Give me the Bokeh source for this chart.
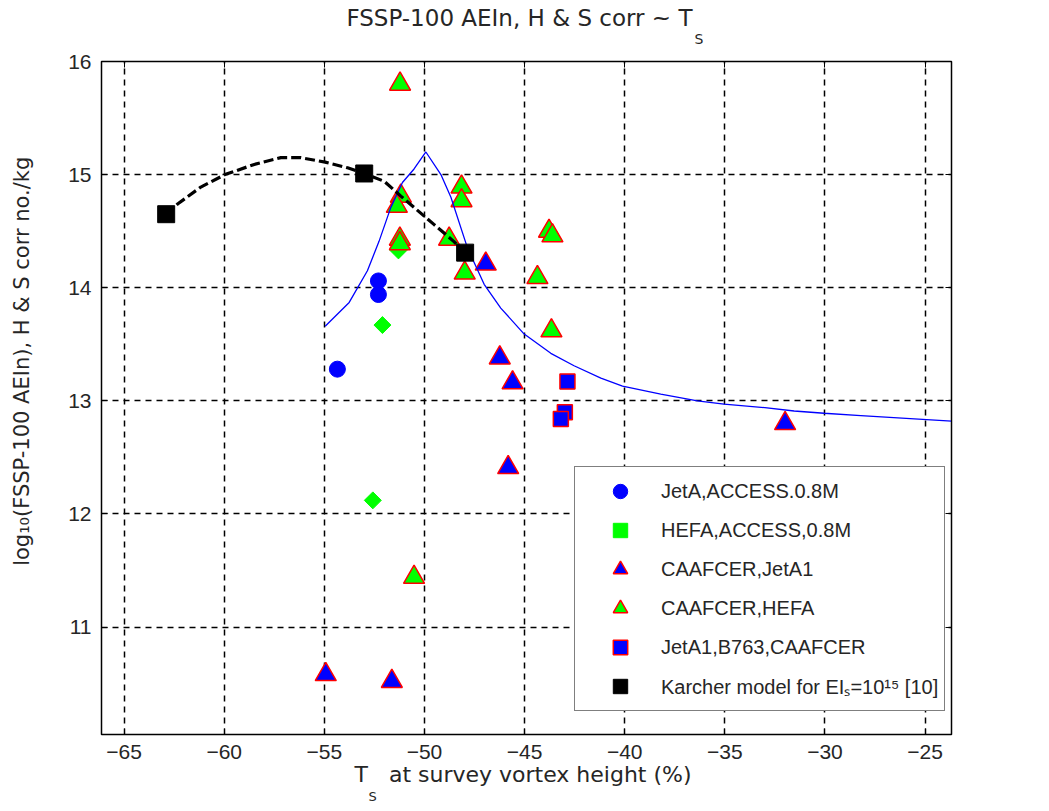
import numpy as np
from bokeh.plotting import figure
from bokeh.models import Range1d, Legend, LegendItem, LinearAxis, FixedTicker, Title
from bokeh.embed import file_html
from bokeh.resources import INLINE

# ---------------- data ----------------
x_ticks = [-65, -60, -55, -50, -45, -40, -35, -30, -25]
y_ticks = [10, 11, 12, 13, 14, 15, 16]

jeta_access_x = [-52.30, -52.30, -54.35]
jeta_access_y = [14.06, 13.94, 13.28]

hefa_access_x = [-52.10, -51.30, -52.58]
hefa_access_y = [13.67, 14.33, 12.12]

caaf_jeta1_x = [-46.94, -46.24, -45.60, -45.82, -54.93, -51.63, -31.99]
caaf_jeta1_y = [14.21, 13.38, 13.16, 12.41, 10.58, 10.52, 12.80]

caaf_hefa_x = [-51.22, -51.18, -51.38, -51.23, -51.23, -48.15, -48.15,
               -48.77, -47.99, -43.78, -43.61, -44.36, -43.66, -50.52]
caaf_hefa_y = [15.80, 14.81, 14.72, 14.43, 14.39, 14.89, 14.77,
               14.43, 14.13, 14.50, 14.46, 14.09, 13.62, 11.44]

b763_x = [-42.86, -42.99, -43.19]
b763_y = [13.17, 12.90, 12.84]

karcher_x = [-62.90, -53.01, -47.97]
karcher_y = [14.65, 15.01, 14.31]

karcher_curve_x = [-62.90, -62.33, -61.17, -59.97, -58.50, -57.17, -56.18,
                   -54.96, -53.84, -53.01, -52.00, -51.18, -49.53, -48.54, -47.97]
karcher_curve_y = [14.65, 14.74, 14.89, 15.00, 15.09, 15.15, 15.15,
                   15.11, 15.06, 15.01, 14.94, 14.81, 14.56, 14.41, 14.31]

fit_x = [-54.96, -53.76, -52.85, -52.27, -51.68, -51.10, -50.52, -49.93,
         -49.18, -48.68, -47.85, -47.02, -46.19, -45.02, -43.69, -42.53,
         -41.19, -40.11, -38.20, -36.37, -35.04, -33.00, -31.54, -30.04,
         -28.21, -23.68]
fit_y = [13.66, 13.87, 14.15, 14.41, 14.71, 14.93, 15.05, 15.20,
         15.00, 14.80, 14.35, 14.03, 13.82, 13.59, 13.42, 13.31,
         13.20, 13.13, 13.06, 13.00, 12.97, 12.94, 12.91, 12.89,
         12.87, 12.82]

legend_labels = ["JetA,ACCESS.0.8M", "HEFA,ACCESS,0.8M", "CAAFCER,JetA1",
                 "CAAFCER,HEFA", "JetA1,B763,CAAFCER",
                 "Karcher model for EI\u209b=10\u00b9\u2075 [10]"]

title_main = "FSSP-100 AEIn, H & S corr ~ T"
title_sub = "S"
xlabel_main = "T\u00a0\u00a0 at survey vortex height (%)"
xlabel_sub = "S"
ylabel = "\u00a0" * 11 + "log\u2081\u2080(FSSP-100 AEIn), H & S corr no./kg"

TICKFONT = "Liberation Sans"
LABFONT = "DejaVu Sans"
TXT = "#262626"

# ---------------- figure ----------------
p = figure(width=1049, height=811, title=None,
           x_range=Range1d(-66.13, -23.68), y_range=Range1d(10.05, 16.0),
           output_backend="svg", toolbar_location=None,
           min_border_left=101, min_border_right=98,
           min_border_top=61, min_border_bottom=77,
           background_fill_color="white", border_fill_color="white")
p.outline_line_color = "black"
p.outline_line_width = 1.5

p.xaxis.ticker = FixedTicker(ticks=x_ticks)
p.yaxis.ticker = FixedTicker(ticks=y_ticks)
for ax in (p.xaxis[0], p.yaxis[0]):
    ax.major_tick_in = 6
    ax.major_tick_out = 0
    ax.minor_tick_line_color = None
    ax.axis_line_color = "black"
    ax.major_tick_line_color = "black"
    ax.major_label_text_font = TICKFONT
    ax.major_label_text_font_size = "21px"
    ax.major_label_text_color = TXT
p.xaxis.major_label_standoff = 10
p.yaxis.major_label_standoff = 10
p.yaxis.axis_label = ylabel
p.yaxis.axis_label_standoff = 31
p.yaxis.axis_label_text_font = LABFONT
p.yaxis.axis_label_text_font_size = "21px"
p.yaxis.axis_label_text_font_style = "normal"
p.yaxis.axis_label_text_color = TXT

# inward ticks on the top and right sides (MATLAB box)
top_ax = LinearAxis(ticker=FixedTicker(ticks=x_ticks), major_tick_in=6, major_tick_out=0,
                    minor_tick_line_color=None, axis_line_color="black",
                    major_label_overrides={t: "" for t in x_ticks},
                    major_label_text_font_size="1px", major_label_standoff=0)
p.add_layout(top_ax, "above")
right_ax = LinearAxis(ticker=FixedTicker(ticks=y_ticks), major_tick_in=6, major_tick_out=0,
                      minor_tick_line_color=None, axis_line_color="black",
                      major_label_overrides={t: "" for t in y_ticks},
                      major_label_text_font_size="1px", major_label_standoff=2)
p.add_layout(right_ax, "right")

for g in (p.xgrid[0], p.ygrid[0]):
    g.grid_line_color = "black"
    g.grid_line_dash = "6 5"
    g.grid_line_width = 1.5

# ---------------- title and x label (with subscripts) ----------------
# spacer row between the frame and the title rows
p.add_layout(Title(text=" ", standoff=2, text_font=LABFONT, text_font_size="8px",
                   text_font_style="normal"), "above")
p.add_layout(Title(text=title_sub, align="left", offset=593, standoff=0,
                   vertical_align="top", text_font=LABFONT, text_font_size="14px",
                   text_font_style="normal", text_color=TXT), "above")
p.add_layout(Title(text=title_main, align="right", offset=259, standoff=0,
                   vertical_align="bottom", text_font=LABFONT, text_font_size="23px",
                   text_font_style="normal", text_color=TXT), "above")

p.add_layout(Title(text=xlabel_main, align="left", offset=253, standoff=0,
                   vertical_align="top", text_font=LABFONT, text_font_size="22px",
                   text_font_style="normal", text_color=TXT), "below")
p.add_layout(Title(text=xlabel_sub, align="left", offset=267, standoff=0,
                   vertical_align="top", text_font=LABFONT, text_font_size="13px",
                   text_font_style="normal", text_color=TXT), "below")

# ---------------- markers ----------------
r_circ = p.scatter(jeta_access_x, jeta_access_y, marker="circle", size=16,
                   fill_color="#0000ff", line_color="#0000ff")
r_diam = p.scatter(hefa_access_x, hefa_access_y, marker="square", angle=np.pi / 4,
                   size=12, fill_color="#00ff00", line_color="#00ff00")
r_tri_b = p.scatter(caaf_jeta1_x, caaf_jeta1_y, marker="triangle", size=21,
                    fill_color="#0000ff", line_color="#ff0000", line_width=1.5)
r_tri_g = p.scatter(caaf_hefa_x, caaf_hefa_y, marker="triangle", size=21,
                    fill_color="#00ff00", line_color="#ff0000", line_width=1.5)
r_sq = p.scatter(b763_x, b763_y, marker="square", size=15,
                 fill_color="#0000ff", line_color="#ff0000", line_width=1.5)

p.line(fit_x, fit_y, line_color="#0000ff", line_width=1.3)
p.line(karcher_curve_x, karcher_curve_y, line_color="black", line_width=3.2,
       line_dash="10 4")
r_k = p.scatter(karcher_x, karcher_y, marker="square", size=17,
                fill_color="black", line_color="black")

# ---------------- legend ----------------
items = [LegendItem(label=lab, renderers=[r]) for lab, r in
         zip(legend_labels, [r_circ, r_diam, r_tri_b, r_tri_g, r_sq, r_k])]
legend = Legend(items=items, location=(473, 23),
                label_text_font=TICKFONT, label_text_font_size="20px",
                label_text_color=TXT, glyph_width=78, glyph_height=36,
                label_height=36, label_standoff=2, spacing=3, padding=6,
                margin=0,
                border_line_color="black", border_line_width=1.2,
                background_fill_color="white", background_fill_alpha=1.0)
p.add_layout(legend)

open("out.html", "w").write(file_html(p, INLINE))
